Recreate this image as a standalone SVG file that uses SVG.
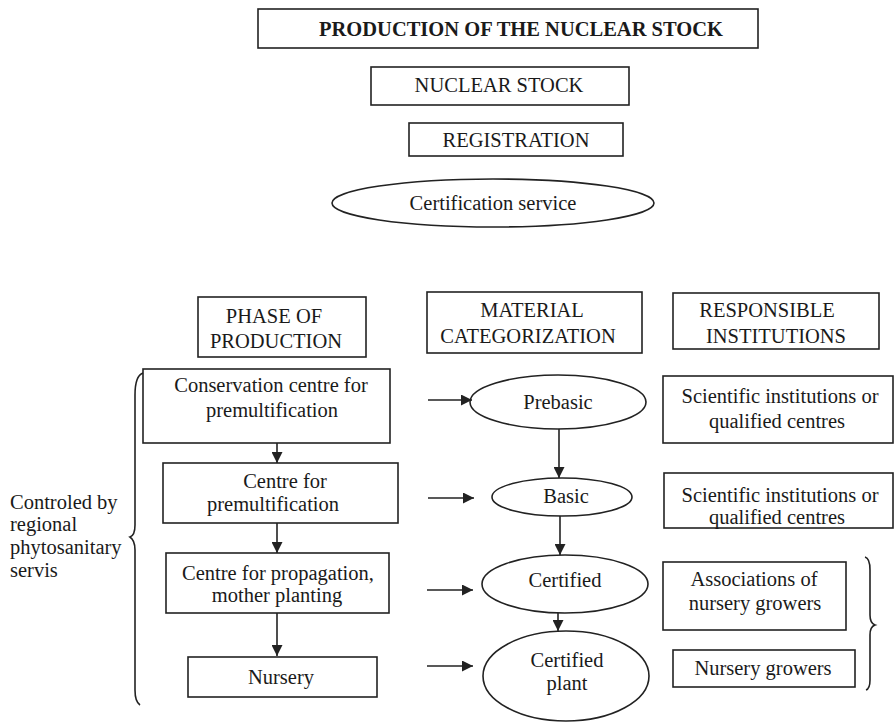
<svg xmlns="http://www.w3.org/2000/svg" width="894" height="723" viewBox="0 0 894 723">
<style>
.b{fill:#fff;stroke:#222;stroke-width:1.6}
.t{font-family:"Liberation Serif","Times New Roman",serif;font-size:20.5px;fill:#1a1a1a;text-anchor:middle}
.l{text-anchor:start}
.c{fill:none;stroke:#222;stroke-width:1.6}
</style>
<defs>
<marker id="ah" viewBox="0 0 10 10" refX="10" refY="5" markerWidth="11" markerHeight="11" markerUnits="userSpaceOnUse" orient="auto">
<path d="M0,0 L10,5 L0,10 Z" fill="#222"/>
</marker>
</defs>
<rect width="894" height="723" fill="#fff"/>

<g id="title"><rect class="b" x="258" y="9" width="500" height="39"/><text class="t" x="521" y="36" font-weight="bold">PRODUCTION OF THE NUCLEAR STOCK</text></g>
<g id="nuclear"><rect class="b" x="371" y="67" width="258" height="38"/><text class="t" x="499" y="92">NUCLEAR STOCK</text></g>
<g id="registration"><rect class="b" x="409" y="123" width="214" height="33"/><text class="t" x="516" y="147">REGISTRATION</text></g>
<g id="certservice"><ellipse class="b" cx="493" cy="203" rx="161" ry="24"/><text class="t" x="493" y="210">Certification service</text></g>

<g id="phase"><rect class="b" x="198" y="297" width="168" height="60"/><text class="t" x="274" y="323">PHASE OF</text><text class="t" x="276" y="348">PRODUCTION</text></g>
<g id="material"><rect class="b" x="427" y="292" width="215" height="61"/><text class="t" x="532" y="317">MATERIAL</text><text class="t" x="528" y="343">CATEGORIZATION</text></g>
<g id="responsible"><rect class="b" x="673" y="293" width="206" height="56"/><text class="t" x="767" y="317">RESPONSIBLE</text><text class="t" x="776" y="343">INSTITUTIONS</text></g>

<g id="conservation"><rect class="b" x="143" y="369" width="247" height="74"/><text class="t" x="271" y="392">Conservation centre for</text><text class="t" x="272" y="417">premultification</text></g>
<g id="centrepremult"><rect class="b" x="163" y="463" width="235" height="60"/><text class="t" x="285" y="488">Centre for</text><text class="t" x="273" y="511">premultification</text></g>
<g id="centreprop"><rect class="b" x="166" y="553" width="223" height="60"/><text class="t" x="278" y="580">Centre for propagation,</text><text class="t" x="277" y="602">mother planting</text></g>
<g id="nursery"><rect class="b" x="188" y="657" width="189" height="40"/><text class="t" x="281" y="684">Nursery</text></g>

<g id="prebasic"><ellipse class="b" cx="558" cy="402" rx="88" ry="27"/><text class="t" x="558" y="409">Prebasic</text></g>
<g id="basic"><ellipse class="b" cx="562" cy="497" rx="70" ry="19"/><text class="t" x="566" y="503">Basic</text></g>
<g id="certified"><ellipse class="b" cx="565" cy="584" rx="83" ry="29"/><text class="t" x="565" y="587">Certified</text></g>
<g id="certplant"><ellipse class="b" cx="566" cy="676" rx="83" ry="45"/><text class="t" x="567" y="667">Certified</text><text class="t" x="567" y="690">plant</text></g>

<g id="sci1"><rect class="b" x="663" y="376" width="230" height="67"/><text class="t" x="780" y="403">Scientific institutions or</text><text class="t" x="777" y="428">qualified centres</text></g>
<g id="sci2"><rect class="b" x="664" y="473" width="229" height="55"/><text class="t" x="780" y="502">Scientific institutions or</text><text class="t" x="777" y="524">qualified centres</text></g>
<g id="assoc"><rect class="b" x="663" y="562" width="183" height="68"/><text class="t" x="754" y="586">Associations of</text><text class="t" x="755" y="610">nursery growers</text></g>
<g id="growers"><rect class="b" x="673" y="650" width="182" height="37"/><text class="t" x="763" y="675">Nursery growers</text></g>

<g id="controlled"><text class="t l" x="10" y="509">Controled by</text><text class="t l" x="10" y="531">regional</text><text class="t l" x="10" y="554">phytosanitary</text><text class="t l" x="10" y="577">servis</text></g>

<g id="connectors">
<line class="c" x1="277" y1="443" x2="277" y2="463" marker-end="url(#ah)"/>
<line class="c" x1="277" y1="523" x2="277" y2="553" marker-end="url(#ah)"/>
<line class="c" x1="277" y1="613" x2="277" y2="656" marker-end="url(#ah)"/>
<line class="c" x1="428" y1="400" x2="472" y2="400" marker-end="url(#ah)"/>
<line class="c" x1="428" y1="498" x2="474" y2="498" marker-end="url(#ah)"/>
<line class="c" x1="427" y1="590" x2="473" y2="590" marker-end="url(#ah)"/>
<line class="c" x1="427" y1="666" x2="473" y2="666" marker-end="url(#ah)"/>
<line class="c" x1="559" y1="429" x2="559" y2="478" marker-end="url(#ah)"/>
<line class="c" x1="560" y1="516" x2="560" y2="555" marker-end="url(#ah)"/>
<line class="c" x1="558" y1="613" x2="558" y2="631" marker-end="url(#ah)"/>
<path class="c" d="M143,373 C137,375 135,385 135,395 L135,525 C135,532 133,536 130,537 C133,539 135,543 135,550 L135,690 C135,698 137,703 140,705"/>
<path class="c" d="M865,557 C869,558 870,563 870,570 L870,615 C870,620 872,624 875,625 C872,626 870,630 870,635 L870,680 C870,686 869,689 866,690"/>
</g>
</svg>
